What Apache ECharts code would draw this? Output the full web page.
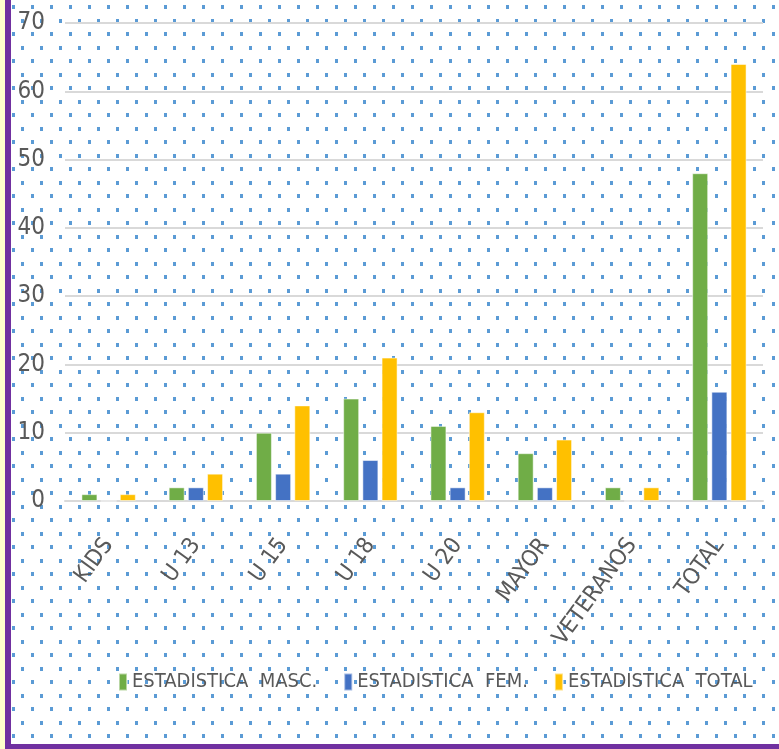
<!DOCTYPE html>
<html>
<head>
<meta charset="utf-8">
<script src="https://cdn.jsdelivr.net/npm/echarts@6/dist/echarts.min.js"></script>
<style>
html,body{margin:0;padding:0;background:#fff;}
#chart{width:779px;height:749px;}
</style>
</head>
<body>
<div id="chart"></div>
<script>
const categories = ['KIDS', 'U 13', 'U 15', 'U 18', 'U 20', 'MAYOR', 'VETERANOS', 'TOTAL'];
const masc = [1, 2, 10, 15, 11, 7, 2, 48];
const fem = [0, 2, 4, 6, 2, 2, 0, 16];
const total = [1, 4, 14, 21, 13, 9, 2, 64];
const seriesNames = ['ESTADISTICA  MASC.', 'ESTADISTICA  FEM.', 'ESTADISTICA  TOTAL'];
const yTicks = [0, 10, 20, 30, 40, 50, 60, 70];

const W = 779, H = 749;
const FONT = '"Liberation Sans Narrow", "DejaVu Sans Condensed", "Liberation Sans", sans-serif';

// dotted background pattern
const bg = document.createElement('canvas');
bg.width = W; bg.height = H;
const ctx = bg.getContext('2d');
ctx.fillStyle = '#fff';
ctx.fillRect(0, 0, W, H);
ctx.fillStyle = '#5B9BD5';
for (let j = 0; 7 + 13.5 * j < H; j++) {
  const y = 7 + 13.5 * j;
  const off = (j % 2 === 0) ? 13 : 3.5;
  for (let x = off; x < W; x += 19) {
    ctx.fillRect(Math.round(x - 1.5), Math.round(y - 2), 3, 4);
  }
}

const chart = echarts.init(document.getElementById('chart'), null, {renderer: 'canvas'});
const barStyle = (c) => ({color: c, borderColor: 'rgba(255,255,255,0.5)', borderWidth: 1});
chart.setOption({
  animation: false,
  backgroundColor: '#fff',
  textStyle: {fontFamily: FONT},
  graphic: [
    {type: 'image', z: -10, silent: true, style: {image: bg, x: 0, y: 0, width: W, height: H}},
    {type: 'rect', z: 100, silent: true, shape: {x: 0, y: 0, width: 5, height: H}, style: {fill: '#FFFFCC'}},
    {type: 'rect', z: 100, silent: true, shape: {x: 5, y: 0, width: 6, height: H}, style: {fill: '#7030A0'}},
    {type: 'rect', z: 100, silent: true, shape: {x: 5, y: 744, width: W - 5, height: 5}, style: {fill: '#7030A0'}}
  ],
  grid: {left: 65, right: 16, top: 23, bottom: 248, containLabel: false},
  legend: {
    left: 113, top: 667, width: 680,
    itemWidth: 8, itemHeight: 17, itemGap: 26,
    icon: 'rect',
    textStyle: {fontSize: 20, color: '#595959', fontFamily: FONT},
    data: seriesNames
  },
  xAxis: {
    type: 'category',
    data: categories,
    axisLine: {show: true, lineStyle: {color: '#D9D9D9', width: 2}},
    axisTick: {show: false},
    axisLabel: {rotate: 54, margin: 40, fontSize: 23, color: '#595959', fontFamily: FONT, interval: 0}
  },
  yAxis: {
    type: 'value',
    min: yTicks[0], max: yTicks[yTicks.length - 1], interval: 10,
    axisLine: {show: false},
    axisTick: {show: false},
    splitLine: {lineStyle: {color: '#D9D9D9', width: 2}},
    axisLabel: {margin: 20, fontSize: 24, color: '#595959', fontFamily: FONT}
  },
  series: [
    {name: seriesNames[0], type: 'bar', data: masc, barWidth: 16, barGap: '20%', itemStyle: barStyle('#70AD47')},
    {name: seriesNames[1], type: 'bar', data: fem, barWidth: 16, barGap: '20%', itemStyle: barStyle('#4472C4')},
    {name: seriesNames[2], type: 'bar', data: total, barWidth: 16, barGap: '20%', itemStyle: barStyle('#FFC000')}
  ]
});
</script>
</body>
</html>
